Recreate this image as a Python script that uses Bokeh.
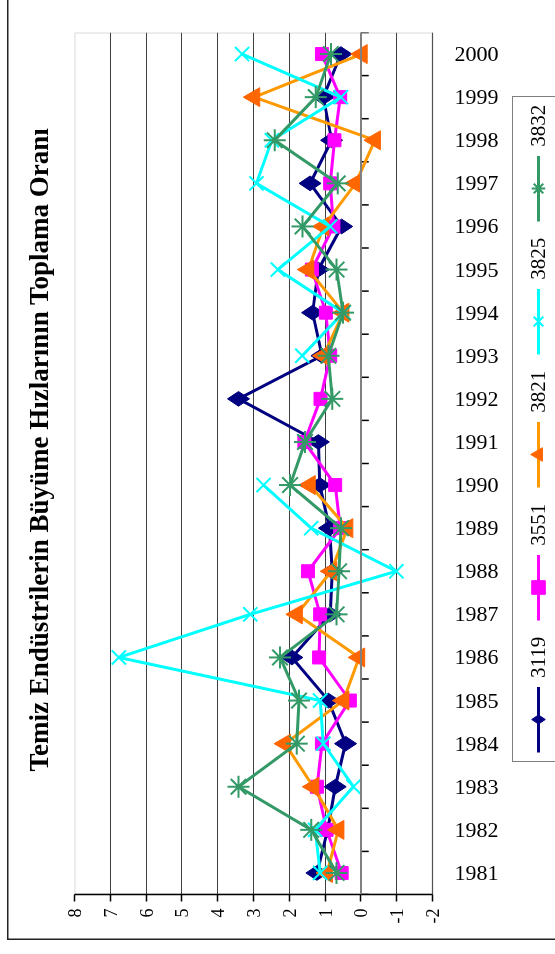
from math import pi
from bokeh.plotting import figure
from bokeh.models import Range1d, FixedTicker, Legend, LegendItem, Span, BoxAnnotation
from bokeh.embed import file_html
from bokeh.resources import INLINE

nan = float("nan")
years = list(range(1981, 2001))
names = ["3119", "3551", "3821", "3825", "3832"]
s3119 = [1.23, 0.93, 0.72, 0.43, 0.91, 1.93, 0.86, 0.80, 0.88, 1.15,
         1.19, 3.42, 1.09, 1.35, 1.19, 0.54, 1.42, 0.82, 1.05, 0.56]
s3551 = [0.54, 0.96, 1.23, 1.09, 0.31, 1.17, 1.14, 1.48, 0.58, 0.72,
         1.58, 1.13, 0.86, 0.98, 1.37, 0.77, 0.86, 0.74, 0.58, 1.09]
s3821 = [0.95, 0.63, 1.33, 2.12, 0.49, 0.05, 1.79, 0.83, 0.38, 1.43,
         nan, nan, 1.05, 0.49, 1.47, 1.05, 0.15, -0.39, 2.98, -0.02]
s3825 = [1.14, 1.28, 0.21, 1.05, 1.14, 6.76, 3.09, -0.99, 1.39, 2.72,
         nan, nan, 1.64, 0.49, 2.32, 0.86, 2.92, 2.49, 0.56, 3.32]
s3832 = [0.68, 1.39, 3.42, 1.79, 1.73, 2.26, 0.68, 0.61, 0.56, 1.98,
         1.56, 0.80, 0.91, 0.50, 0.68, 1.63, 0.65, 2.41, 1.26, 0.84]
value_ticks = list(range(-2, 9))
value_labels = ["-2", "-1", "0", "1", "2", "3", "4", "5", "6", "7", "8"]
title_text = "Temiz Endüstrilerin Büyüme Hızlarının Toplama Oranı"

series = [s3119, s3551, s3821, s3825, s3832]
line_colors = ["#000080", "#FF00FF", "#FF9900", "#00FFFF", "#339966"]
mark_fill = ["#000080", "#FF00FF", "#FF6600", "#00FFFF", "#339966"]
markers = ["diamond", "square", "triangle", "x", "asterisk"]
msizes = [22, 13, 19, 20, 22]

vmin, vmax = value_ticks[0], value_ticks[-1]
# plot area: 359 px for the 10 value units; the frame continues below it (782 px)
# so that the legend can sit inside the frame without being clipped.
frame_h, area_h = 782, 359
y_start = vmax - frame_h * (vmax - vmin) / area_h

# The chart is drawn upright and turned a quarter turn to the left,
# exactly like the reference page; a square canvas keeps Bokeh's measured box stable.
p = figure(width=954, height=954, output_backend="svg", toolbar_location=None,
           x_range=Range1d(years[0] - 0.5, years[-1] + 0.5),
           y_range=Range1d(y_start, vmax),
           min_border_left=59, min_border_right=33, min_border_top=72,
           min_border_bottom=100, title=title_text)
p.styles = {"position": "fixed", "left": "0px", "top": "0px",
            "transform-origin": "0 0",
            "transform": "translate(0px, 954px) rotate(-90deg)",
            "background-color": "white",
            "background-image": "linear-gradient(#222,#222), linear-gradient(#222,#222)",
            "background-repeat": "no-repeat",
            "background-position": "15px 7px, 14px 7px",
            "background-size": "100% 1.5px, 1.5px 100%"}
p.border_fill_color = None
p.outline_line_color = None
p.background_fill_color = "white"

p.title.text_font = "Liberation Serif"
p.title.text_font_size = "27px"
p.title.text_font_style = "bold"
p.title.text_color = "black"
p.title.align = "left"
p.title.offset = 123
p.title.standoff = 42

# plot-area border
p.add_layout(BoxAnnotation(left=years[0] - 0.5, right=years[-1] + 0.5, bottom=vmin, top=vmax,
                           fill_color=None, line_color="#808080", line_width=2, level="underlay"))

# value axis
p.yaxis.ticker = FixedTicker(ticks=value_ticks)
p.yaxis.bounds = (vmin, vmax)
p.yaxis.major_label_overrides = {t: s for t, s in zip(value_ticks, value_labels)}
p.yaxis.axis_line_color = "black"
p.yaxis.axis_line_width = 1.5
p.yaxis.major_tick_line_color = "black"
p.yaxis.major_tick_line_width = 1.5
p.yaxis.major_tick_out = 7
p.yaxis.major_tick_in = 0
p.yaxis.minor_tick_line_color = None
p.yaxis.major_label_standoff = 7
p.yaxis.major_label_text_font = "Liberation Serif"
p.yaxis.major_label_text_font_size = "18px"
p.yaxis.major_label_text_color = "black"

# year axis, drawn along the low edge of the plot area
p.xaxis.ticker = FixedTicker(ticks=years)
p.xaxis.fixed_location = vmin
p.xaxis.axis_line_color = None
p.xaxis.major_tick_line_color = None
p.xaxis.minor_tick_line_color = None
p.xaxis.major_label_orientation = -pi / 2
p.xaxis.major_label_standoff = 16
p.xaxis.major_label_text_font = "Liberation Serif"
p.xaxis.major_label_text_font_size = "22px"
p.xaxis.major_label_text_color = "black"

p.xgrid.visible = False
p.ygrid.ticker = FixedTicker(ticks=value_ticks)
p.ygrid.grid_line_color = "#404040"
p.ygrid.grid_line_width = 1.2

# category axis line at zero with boundary ticks
p.add_layout(Span(location=0, dimension="width", line_color="#808080", line_width=2))
bounds = [y - 0.5 for y in years] + [years[-1] + 0.5]
p.segment(x0=bounds, y0=[0] * len(bounds), x1=bounds, y1=[-0.22] * len(bounds),
          line_color="black", line_width=1.5)

items = []
for name, vals, lc, mf, mk, ms in zip(names, series, line_colors, mark_fill, markers, msizes):
    lr = p.line(years, vals, line_color=lc, line_width=3)
    if mk in ("x", "asterisk"):
        sr = p.scatter(years, vals, marker=mk, size=ms, line_color=mf, line_width=2)
    else:
        sr = p.scatter(years, vals, marker=mk, size=ms, fill_color=mf, line_color=mf)
    items.append(LegendItem(label=name, renderers=[lr, sr]))

legend = Legend(items=items, orientation="horizontal", location=(133, 290),
                label_text_font="Liberation Serif", label_text_font_size="21px",
                label_text_color="black",
                border_line_color="black", border_line_width=1,
                background_fill_color="white", background_fill_alpha=1,
                glyph_width=66, glyph_height=34, label_standoff=9,
                spacing=16, padding=8, margin=0)
p.add_layout(legend, "center")

open("out.html", "w").write(file_html(p, INLINE))
